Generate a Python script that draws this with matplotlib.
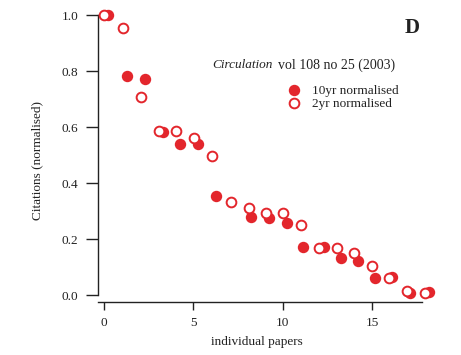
import matplotlib
matplotlib.use("Agg")
import matplotlib.pyplot as plt

# paper index and normalised citations
x_10yr = [0.2, 1.3, 2.3, 3.28, 4.27, 5.27, 6.25, 8.24, 9.23, 10.22,
          11.15, 12.31, 13.24, 14.23, 15.18, 16.13, 17.12, 18.2]
y_10yr = [1.0, 0.782, 0.771, 0.581, 0.540, 0.540, 0.352, 0.280, 0.275, 0.258,
          0.172, 0.170, 0.133, 0.121, 0.062, 0.063, 0.008, 0.012]

x_2yr = [0.0, 1.08, 2.07, 3.08, 4.03, 5.01, 6.02, 7.09, 8.09, 9.05,
         10.03, 11.02, 12.01, 13.02, 13.99, 15.01, 15.96, 16.97, 17.96]
y_2yr = [1.0, 0.955, 0.708, 0.587, 0.587, 0.562, 0.497, 0.331, 0.312, 0.294,
         0.294, 0.250, 0.167, 0.167, 0.149, 0.105, 0.062, 0.015, 0.006]

x_ticks = [0, 5, 10, 15]
y_ticks = [0.0, 0.2, 0.4, 0.6, 0.8, 1.0]

RED = "#e3262c"
INK = "#222222"

plt.rcParams["font.family"] = ["Liberation Serif", "DejaVu Serif"]

fig = plt.figure(figsize=(4.61, 3.55), dpi=100)
ax = fig.add_axes([98 / 461, 60 / 355, 324 / 461, 280 / 355])

ax.plot(x_10yr, y_10yr, "o", ms=7, color=RED, mec=RED, mew=1.2,
        clip_on=False, label="10yr normalised", zorder=3)
ax.plot(x_2yr, y_2yr, "o", ms=7, mfc="white", mec=RED, mew=1.4,
        clip_on=False, label="2yr normalised", zorder=4)

ax.set_xlim(-0.34, 17.8)
ax.set_ylim(0, 1.0)
ax.set_xticks(x_ticks)
ax.set_yticks(y_ticks)
ax.set_yticklabels([f"{v:.1f}" for v in y_ticks])

for side in ("top", "right"):
    ax.spines[side].set_visible(False)
ax.spines["bottom"].set_position(("outward", 5))
for side in ("left", "bottom"):
    ax.spines[side].set_color(INK)
    ax.spines[side].set_linewidth(1.0)
ax.tick_params(axis="y", direction="out", length=9, width=1.0, colors=INK,
               labelsize=9.5, pad=5)
ax.tick_params(axis="x", direction="out", length=6, width=1.0, colors=INK,
               labelsize=9.5, pad=5)

ax.set_xlabel("individual papers", fontsize=9.5, color=INK, va="center")
ax.set_ylabel("Citations (normalised)", fontsize=9.5, color=INK, va="center")
ax.xaxis.set_label_coords(0.491, -0.168)
ax.yaxis.set_label_coords(-0.188, 0.479)

fig.text(412 / 461, 1 - 28 / 355, "D", fontsize=15, fontweight="bold",
         color=INK, ha="center", va="center")
fig.text(212 / 461, 1 - 65 / 355, "Circulation", fontsize=9.5,
         style="italic", color=INK, ha="left", va="center")
fig.text(278 / 461, 1 - 65 / 355, "vol 108 no 25 (2003)", fontsize=10,
         color=INK, ha="left", va="center")

leg = ax.legend(loc="upper left", bbox_to_anchor=(288 / 461, 1 - 85 / 355),
                bbox_transform=fig.transFigure, frameon=False, fontsize=9.5,
                handlelength=0.9, handletextpad=0.9, labelspacing=0.05,
                borderpad=0, borderaxespad=0)
for t in leg.get_texts():
    t.set_color(INK)

fig.savefig("out.png", dpi=100)
